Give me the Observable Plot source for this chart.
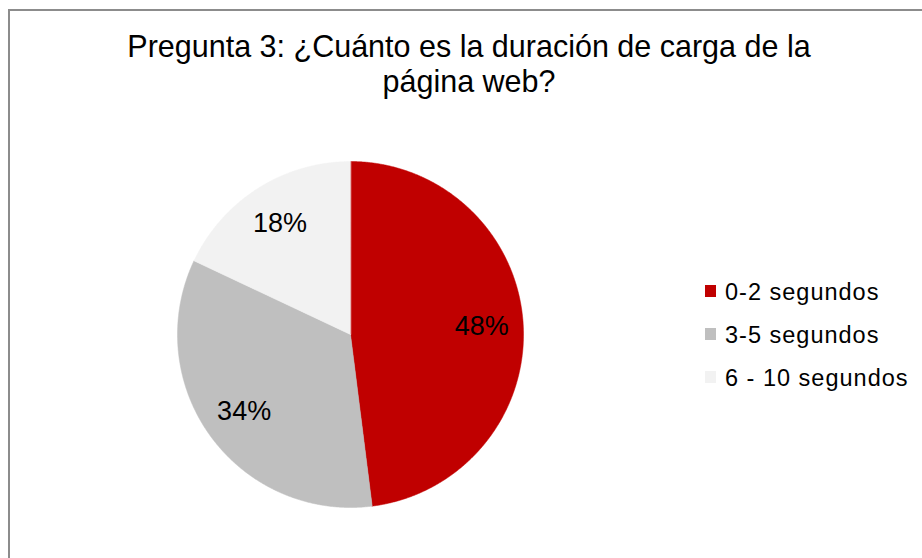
<!DOCTYPE html>
<html>
<head>
<meta charset="utf-8">
<script src="https://cdn.jsdelivr.net/npm/d3@7"></script>
<script src="https://cdn.jsdelivr.net/npm/@observablehq/plot@0.6"></script>
<style>
  html, body { margin: 0; padding: 0; background: #fff; }
  #chart { position: relative; width: 922px; height: 558px; overflow: hidden; font-family: "Liberation Sans", Arial, sans-serif; }
  #frame { position: absolute; left: 8px; top: 9px; width: 1000px; height: 1000px; border-top: 2px solid #8c8c8c; border-left: 2px solid #8c8c8c; box-sizing: border-box; }
  #title { position: absolute; left: 0; width: 938px; top: 29px; text-align: center; font-size: 30.5px; line-height: 35px; color: #000; }
  #plot { position: absolute; left: 177px; top: 161px; }
  #legend { position: absolute; left: 705px; top: 271px; font-size: 23.5px; color: #000; letter-spacing: 1px; }
  .item { display: flex; align-items: center; height: 43px; line-height: 43px; }
  .sw { width: 11px; height: 12px; margin-right: 9px; margin-top: -3px; }
</style>
</head>
<body>
<div id="chart">
  <div id="frame"></div>
  <div id="title"></div>
  <div id="plot"></div>
  <div id="legend"></div>
</div>
<script>
const titleLines = ["Pregunta 3: ¿Cuánto es la duración de carga de la", "página web?"];
const categories = ["0-2 segundos", "3-5 segundos", "6 - 10 segundos"];
const values = [48, 34, 18];
const colors = ["#C00000", "#BFBFBF", "#F2F2F2"];
const labels = ["48%", "34%", "18%"];

document.getElementById("title").innerHTML = titleLines.join("<br>");

const pieData = d3.pie().sort(null).value(d => d)(values);
const outline = [];
const labelPts = [];
pieData.forEach((s, i) => {
  const cat = categories[i];
  outline.push({cat, x: 0, y: 0});
  const n = Math.max(2, Math.ceil((s.endAngle - s.startAngle) / 0.005));
  for (let k = 0; k <= n; k++) {
    const a = s.startAngle + (s.endAngle - s.startAngle) * k / n;
    outline.push({cat, x: Math.sin(a), y: Math.cos(a)});
  }
  const m = (s.startAngle + s.endAngle) / 2;
  labelPts.push({label: labels[i], x: 0.76 * Math.sin(m), y: 0.76 * Math.cos(m)});
});

const R = 173;
const plot = Plot.plot({
  width: 2 * R,
  height: 2 * R,
  margin: 0,
  x: {domain: [-1, 1], axis: null},
  y: {domain: [-1, 1], axis: null},
  color: {domain: categories, range: colors},
  marks: [
    Plot.line(outline, {x: "x", y: "y", z: "cat", fill: "cat", stroke: "cat", strokeWidth: 0.5, curve: "linear-closed"}),
    Plot.text(labelPts, {x: "x", y: "y", text: "label", fontSize: 27, fill: "#000", fontFamily: "Liberation Sans, Arial, sans-serif"})
  ],
  style: {background: "transparent", overflow: "visible"}
});
document.getElementById("plot").appendChild(plot);

const legend = document.getElementById("legend");
categories.forEach((c, i) => {
  const item = document.createElement("div");
  item.className = "item";
  const sw = document.createElement("div");
  sw.className = "sw";
  sw.style.background = colors[i];
  const t = document.createElement("span");
  t.textContent = c;
  item.appendChild(sw);
  item.appendChild(t);
  legend.appendChild(item);
});
</script>
</body>
</html>
